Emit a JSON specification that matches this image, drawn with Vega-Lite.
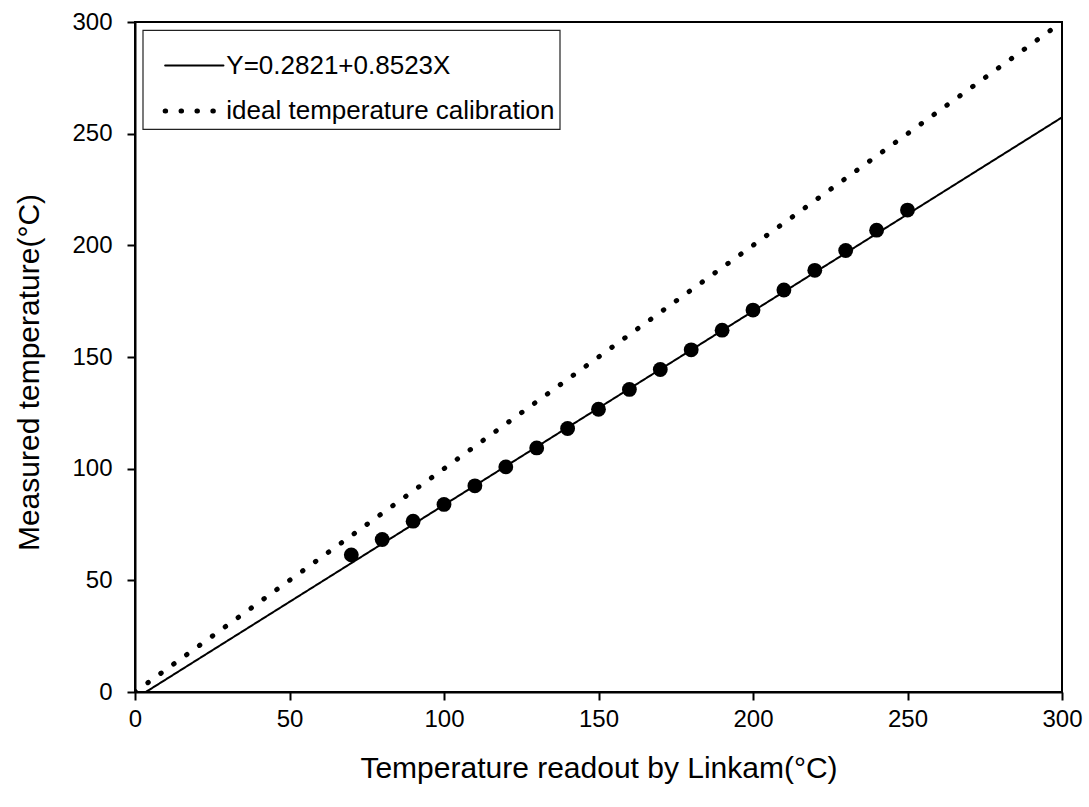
{
  "$schema": "https://vega.github.io/schema/vega-lite/v6.json",
  "width": 927,
  "height": 670,
  "autosize": "none",
  "padding": {"left": 135, "top": 22, "right": 27, "bottom": 115},
  "background": "white",
  "config": {
    "font": "Liberation Sans",
    "view": {"stroke": "black", "strokeWidth": 2},
    "axis": {
      "grid": false,
      "domainColor": "black",
      "domainWidth": 2,
      "tickColor": "black",
      "tickWidth": 2,
      "tickSize": 8,
      "labelFontSize": 24,
      "labelColor": "black",
      "labelFlush": false,
      "labelOverlap": false,
      "titleFontSize": 30,
      "titleFontWeight": "normal",
      "titleColor": "black"
    }
  },
  "datasets": {
    "lines": [
      {"series": "Y=0.2821+0.8523X", "x": 3.5, "y": 0},
      {"series": "Y=0.2821+0.8523X", "x": 300, "y": 257.3},
      {"series": "ideal temperature calibration", "x": 0, "y": 0},
      {"series": "ideal temperature calibration", "x": 300, "y": 300}
    ],
    "points": [
      {"x": 70, "y": 61.4},
      {"x": 80, "y": 68.3},
      {"x": 90, "y": 76.5},
      {"x": 100, "y": 84.0},
      {"x": 110, "y": 92.3},
      {"x": 120, "y": 100.8},
      {"x": 130, "y": 109.3},
      {"x": 140, "y": 118.0},
      {"x": 150, "y": 126.6},
      {"x": 160, "y": 135.5},
      {"x": 170, "y": 144.4},
      {"x": 180, "y": 153.2},
      {"x": 190, "y": 162.0},
      {"x": 200, "y": 171.0},
      {"x": 210, "y": 180.0},
      {"x": 220, "y": 188.8},
      {"x": 230, "y": 197.7},
      {"x": 240, "y": 206.8},
      {"x": 250, "y": 215.8}
    ]
  },
  "layer": [
    {
      "data": {"name": "lines"},
      "mark": {"type": "line", "color": "black", "strokeCap": "round", "clip": true},
      "encoding": {
        "x": {
          "field": "x", "type": "quantitative",
          "scale": {"domain": [0, 300], "nice": false},
          "axis": {"values": [0, 50, 100, 150, 200, 250, 300], "labelPadding": 7, "title": "Temperature readout by Linkam(°C)", "titlePadding": 22}
        },
        "y": {
          "field": "y", "type": "quantitative",
          "scale": {"domain": [0, 300], "nice": false},
          "axis": {"values": [0, 50, 100, 150, 200, 250, 300], "labelPadding": 15, "title": "Measured temperature(°C)", "titleX": -106, "titleY": 350, "titleBaseline": "middle", "titleAlign": "center"}
        },
        "strokeDash": {
          "field": "series", "type": "nominal",
          "scale": {"domain": ["Y=0.2821+0.8523X", "ideal temperature calibration"], "range": [[1, 0], [0.5, 15.4]]},
          "legend": {
            "title": null,
            "orient": "none",
            "legendX": 7.7,
            "legendY": 8,
            "strokeColor": "#222222",
            "fillColor": "white",
            "padding": 5,
            "rowPadding": -26,
            "symbolType": "stroke",
            "symbolSize": 3400,
            "symbolOffset": 14.6,
            "symbolStrokeColor": "black",
            "labelFontSize": 26,
            "labelColor": "black",
            "labelOffset": 0,
            "labelLimit": 700,
            "encode": {
              "legend": {"update": {"strokeWidth": {"value": 1.2}}},
              "symbols": {"update": {"strokeCap": {"value": "round"}, "strokeDash": {"signal": "datum.value === 'ideal temperature calibration' ? [0.5, 11.2] : [1, 0]"}}}
            }
          }
        },
        "strokeWidth": {
          "field": "series", "type": "ordinal",
          "scale": {"domain": ["Y=0.2821+0.8523X", "ideal temperature calibration"], "range": [2, 5]},
          "legend": {
            "title": null,
            "orient": "none",
            "legendX": 7.7,
            "legendY": 8,
            "strokeColor": "#222222",
            "fillColor": "white",
            "padding": 5,
            "rowPadding": -26,
            "symbolType": "stroke",
            "symbolSize": 3400,
            "symbolOffset": 14.6,
            "symbolStrokeColor": "black",
            "labelFontSize": 26,
            "labelColor": "black",
            "labelOffset": 0,
            "labelLimit": 700,
            "encode": {
              "legend": {"update": {"strokeWidth": {"value": 1.2}}},
              "symbols": {"update": {"strokeCap": {"value": "round"}, "strokeDash": {"signal": "datum.value === 'ideal temperature calibration' ? [0.5, 11.2] : [1, 0]"}}}
            }
          }
        }
      }
    },
    {
      "data": {"name": "points"},
      "mark": {"type": "circle", "color": "black", "opacity": 1, "size": 220},
      "encoding": {
        "x": {"field": "x", "type": "quantitative"},
        "y": {"field": "y", "type": "quantitative"}
      }
    }
  ]
}
